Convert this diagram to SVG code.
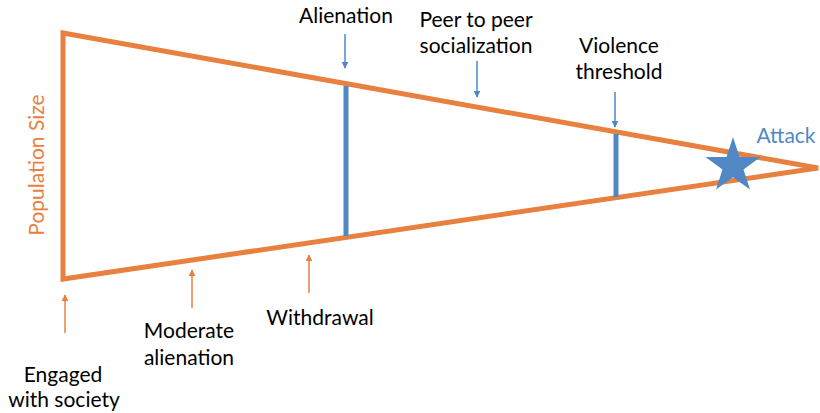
<svg xmlns="http://www.w3.org/2000/svg" width="820" height="413" viewBox="0 0 820 413">
<style>
.t{font-family:Lato,"Open Sans",sans-serif;font-size:21px;fill:#000;text-anchor:middle}
.o{fill:#E8803F}
.b{fill:#4F88C4}
.ol{stroke:#E8803F;fill:none}
.bl{stroke:#4F88C4;fill:none}
</style>
<defs>
<marker id="ab" viewBox="0 0 10 10" refX="9" refY="5" markerWidth="4.5" markerHeight="4.5" orient="auto" markerUnits="strokeWidth"><path d="M0,0 L10,5 L0,10 z" fill="#4F88C4"/></marker>
<marker id="ao" viewBox="0 0 10 10" refX="9" refY="5" markerWidth="4.5" markerHeight="4.5" orient="auto" markerUnits="strokeWidth"><path d="M0,0 L10,5 L0,10 z" fill="#E8803F"/></marker>
</defs>
<g id="funnel">
<path class="ol" d="M63,33 L818,168 L63,279 Z" stroke-width="5" stroke-linejoin="miter"/>
</g>
<g id="bars">
<line class="bl" x1="346" y1="86" x2="346" y2="236" stroke-width="5"/>
<line class="bl" x1="616" y1="134" x2="616" y2="197" stroke-width="5"/>
</g>
<g id="star">
<polygon class="b" transform="translate(733,166)" points="0,-29 6.5,-9 27.6,-9 10.5,3.5 17,23.5 0,11.2 -17,23.5 -10.5,3.5 -27.6,-9 -6.5,-9"/>
</g>
<g id="connectors">
<line class="bl" x1="345" y1="34" x2="345" y2="68" stroke-width="1.5" marker-end="url(#ab)"/>
<line class="bl" x1="477" y1="61" x2="477" y2="97" stroke-width="1.5" marker-end="url(#ab)"/>
<line class="bl" x1="615" y1="92" x2="615" y2="127" stroke-width="1.5" marker-end="url(#ab)"/>
<line class="ol" x1="65" y1="333" x2="65" y2="295" stroke-width="1.5" marker-end="url(#ao)"/>
<line class="ol" x1="192" y1="308" x2="192" y2="270" stroke-width="1.5" marker-end="url(#ao)"/>
<line class="ol" x1="309" y1="293" x2="309" y2="255" stroke-width="1.5" marker-end="url(#ao)"/>
</g>
<g id="n-alienation"><text class="t" x="346" y="23">Alienation</text></g>
<g id="n-peer"><text class="t" x="476" y="27">Peer to peer</text><text class="t" x="476" y="53">socialization</text></g>
<g id="n-violence"><text class="t" x="619" y="53">Violence</text><text class="t" x="619" y="79">threshold</text></g>
<g id="n-attack"><text class="t b" x="786" y="143">Attack</text></g>
<g id="n-withdrawal"><text class="t" x="320" y="325">Withdrawal</text></g>
<g id="n-moderate"><text class="t" x="189" y="338">Moderate</text><text class="t" x="189" y="365">alienation</text></g>
<g id="n-engaged"><text class="t" x="63" y="382">Engaged</text><text class="t" x="64" y="407">with society</text></g>
<g id="n-population"><text class="t o" transform="translate(44,165) rotate(-90)">Population Size</text></g>
</svg>
